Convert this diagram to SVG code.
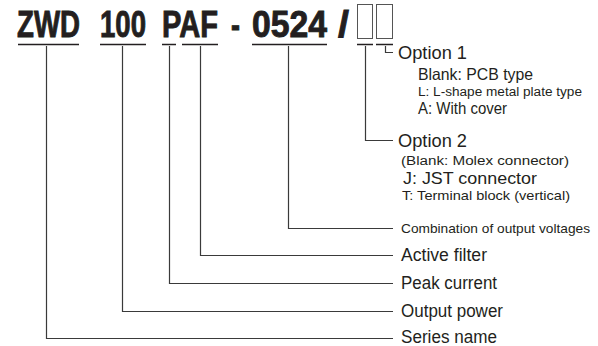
<svg xmlns="http://www.w3.org/2000/svg" width="598" height="346" viewBox="0 0 598 346">
<style>
.t{font-family:"Liberation Sans",Arial,sans-serif;font-weight:bold;font-size:36px;fill:#231f20;stroke:#231f20;stroke-width:0.9}
.l{font-family:"Liberation Sans",Arial,sans-serif;font-size:17.5px;fill:#231f20}
.m{font-family:"Liberation Sans",Arial,sans-serif;font-size:16.5px;fill:#231f20}
.s{font-family:"Liberation Sans",Arial,sans-serif;font-size:13px;fill:#231f20}
.x{font-family:"Liberation Sans",Arial,sans-serif;font-size:12px;fill:#231f20}
.u{stroke:#231f20;stroke-width:1.6;fill:none}
.b{stroke:#555;stroke-width:1;fill:none}
.c{stroke:#3a3a3a;stroke-width:1.2;fill:none}
</style>
<rect width="598" height="346" fill="#fff"/>
<g id="code">
<text class="t" x="17" y="37" textLength="63" lengthAdjust="spacingAndGlyphs">ZWD</text>
<text class="t" x="100" y="37" textLength="46" lengthAdjust="spacingAndGlyphs">100</text>
<text class="t" x="162" y="37" textLength="56" lengthAdjust="spacingAndGlyphs">PAF</text>
<text class="t" x="231" y="37" textLength="9" lengthAdjust="spacingAndGlyphs">-</text>
<text class="t" x="252" y="37" textLength="75" lengthAdjust="spacingAndGlyphs">0524</text>
<text class="t" x="338" y="37" textLength="11" lengthAdjust="spacingAndGlyphs">/</text>
<rect class="b" x="357.5" y="4.5" width="15" height="34"/>
<rect class="b" x="376.5" y="4.5" width="16" height="34"/>
<path class="u" d="M18,44.5H79M100,44.5H146M162,44.5H176M182,44.5H218M252,44.5H327M357,44.5H373M376,44.5H393"/>
</g>
<g id="connectors">
<path class="c" d="M46.5,46V338.5H393"/>
<path class="c" d="M122.5,46V311.5H393"/>
<path class="c" d="M169.5,46V283.5H393"/>
<path class="c" d="M200.5,46V255.5H393"/>
<path class="c" d="M288.5,46V228.5H393"/>
<path class="c" d="M365.5,46V140.5H393"/>
<path class="c" d="M385.5,46V52.5H393"/>
</g>
<g id="option1">
<text class="l" x="398" y="59" textLength="69" lengthAdjust="spacingAndGlyphs">Option 1</text>
<text class="m" x="418" y="80" textLength="115" lengthAdjust="spacingAndGlyphs">Blank: PCB type</text>
<text class="x" x="418" y="95.5" textLength="164" lengthAdjust="spacingAndGlyphs">L: L-shape metal plate type</text>
<text class="m" x="418" y="113.5" textLength="89" lengthAdjust="spacingAndGlyphs">A: With cover</text>
</g>
<g id="option2">
<text class="l" x="398" y="147" textLength="69" lengthAdjust="spacingAndGlyphs">Option 2</text>
<text class="x" x="401" y="165" textLength="168" lengthAdjust="spacingAndGlyphs">(Blank: Molex connector)</text>
<text class="m" x="403" y="183.5" textLength="134" lengthAdjust="spacingAndGlyphs">J: JST connector</text>
<text class="s" x="402" y="199.5" textLength="168" lengthAdjust="spacingAndGlyphs">T: Terminal block (vertical)</text>
</g>
<g id="voltages"><text class="s" x="401" y="233" textLength="189" lengthAdjust="spacingAndGlyphs">Combination of output voltages</text></g>
<g id="filter"><text class="l" x="401" y="260.5" textLength="86" lengthAdjust="spacingAndGlyphs">Active filter</text></g>
<g id="peak"><text class="l" x="401" y="288.5" textLength="96" lengthAdjust="spacingAndGlyphs">Peak current</text></g>
<g id="power"><text class="l" x="401" y="316.5" textLength="102" lengthAdjust="spacingAndGlyphs">Output power</text></g>
<g id="series"><text class="l" x="401" y="343" textLength="96" lengthAdjust="spacingAndGlyphs">Series name</text></g>
</svg>
